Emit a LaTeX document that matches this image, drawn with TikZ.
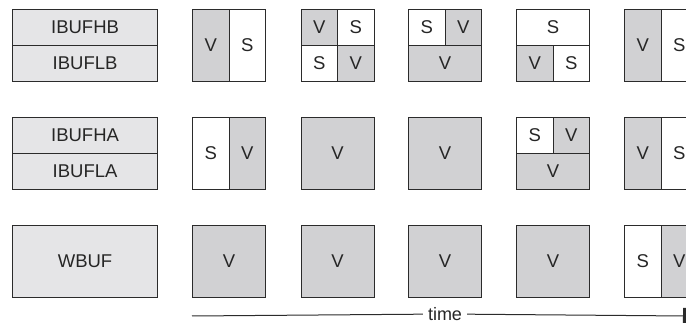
\documentclass[tikz,border=0pt]{standalone}
\usepackage{fontspec}
\setmainfont{Liberation Sans}
\usetikzlibrary{arrows.meta}
\definecolor{lblfill}{HTML}{E5E5E7}
\definecolor{vfill}{HTML}{D1D1D3}
\definecolor{edge}{HTML}{2B2B2B}
\begin{document}
\begin{tikzpicture}[x=1pt,y=-1pt,
  cell/.style={draw=edge, line width=1.1pt, inner sep=0pt, anchor=north west,
    font=\fontsize{18.5}{22}\selectfont, text=black!85},
  vcell/.style={cell, fill=vfill},
  scell/.style={cell, fill=white},
  lbl/.style={cell, fill=lblfill, minimum width=145pt},
  full/.style={minimum width=73pt, minimum height=72pt},
  halfw/.style={minimum width=36.5pt, minimum height=72pt},
  halfh/.style={minimum width=73pt, minimum height=36pt},
  quarter/.style={minimum width=36.5pt, minimum height=36pt},
  timeline/.style={draw=edge, line width=1pt}]
\useasboundingbox (0,0) rectangle (686,323);
% labels
\node[lbl, minimum height=36pt] (ibufhb) at (12,9) {IBUFHB};
\node[lbl, minimum height=36pt] (ibuflb) at (12,45) {IBUFLB};
\node[lbl, minimum height=36pt] (ibufha) at (12,117) {IBUFHA};
\node[lbl, minimum height=36pt] (ibufla) at (12,153) {IBUFLA};
\node[lbl, minimum height=72pt] (wbuf) at (12,225) {WBUF};
% row 1
\node[vcell, halfw] (a1v) at (192,9) {V};
\node[scell, halfw] (a1s) at (228.5,9) {S};
\node[vcell, quarter] (a2tl) at (300.5,9) {V};
\node[scell, quarter] (a2tr) at (337,9) {S};
\node[scell, quarter] (a2bl) at (300.5,45) {S};
\node[vcell, quarter] (a2br) at (337,45) {V};
\node[scell, quarter] (a3tl) at (408,9) {S};
\node[vcell, quarter] (a3tr) at (444.5,9) {V};
\node[vcell, halfh] (a3b) at (408,45) {V};
\node[scell, halfh] (a4t) at (516,9) {S};
\node[vcell, quarter] (a4bl) at (516,45) {V};
\node[scell, quarter] (a4br) at (552.5,45) {S};
\node[vcell, halfw] (a5v) at (624,9) {V};
\node[scell, halfw] (a5s) at (660.5,9) {S};
% row 2
\node[scell, halfw] (b1s) at (192,117) {S};
\node[vcell, halfw] (b1v) at (228.5,117) {V};
\node[vcell, full] (b2) at (300.5,117) {V};
\node[vcell, full] (b3) at (408,117) {V};
\node[scell, quarter] (b4tl) at (516,117) {S};
\node[vcell, quarter] (b4tr) at (552.5,117) {V};
\node[vcell, halfh] (b4b) at (516,153) {V};
\node[vcell, halfw] (b5v) at (624,117) {V};
\node[scell, halfw] (b5s) at (660.5,117) {S};
% row 3
\node[vcell, full] (c1) at (192,225) {V};
\node[vcell, full] (c2) at (300.5,225) {V};
\node[vcell, full] (c3) at (408,225) {V};
\node[vcell, full] (c4) at (516,225) {V};
\node[scell, halfw] (c5s) at (624,225) {S};
\node[vcell, halfw] (c5v) at (660.5,225) {V};
% time axis
\coordinate (t0) at (192,316);
\coordinate (t1) at (686,316);
\node[font=\fontsize{18}{21}\selectfont, text=black!85, fill=white, inner xsep=5pt, inner ysep=0.5pt] (time) at (445,314) {time};
\draw[timeline] (t0) -- (time);
\draw[timeline, -{Bar[width=16pt, line width=3pt]}] (time) -- (t1);
\end{tikzpicture}
\end{document}
